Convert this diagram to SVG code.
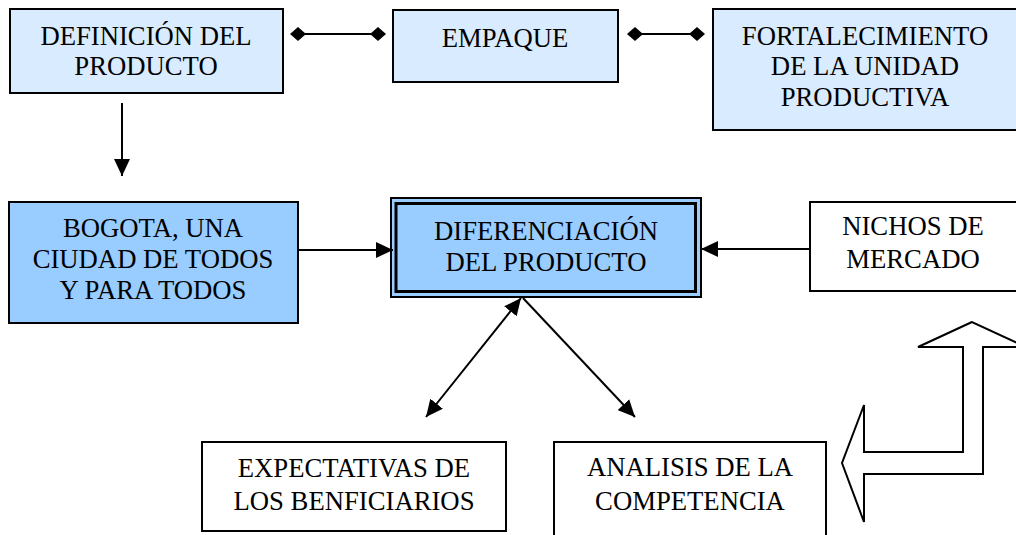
<svg xmlns="http://www.w3.org/2000/svg" width="1016" height="535" viewBox="0 0 1016 535">
<style>
.box{stroke:#000;stroke-width:2}
.lt{fill:#D9EBFF}
.md{fill:#99CCFF}
.wh{fill:#fff}
text{font-family:"Liberation Serif","Times New Roman",serif;font-size:26.7px;fill:#000;text-anchor:middle}
.ln{stroke:#000;stroke-width:2;fill:none}
.dia{fill:#000}
</style>
<defs>
<marker id="ah" markerUnits="userSpaceOnUse" viewBox="0 0 17 16" markerWidth="17" markerHeight="16" refX="17" refY="8" orient="auto-start-reverse">
<path d="M0,0 L17,8 L0,16 z" fill="#000"/>
</marker>
</defs>
<rect width="1016" height="535" fill="#fff"/>
<g id="definicion">
<rect class="box lt" x="10" y="9" width="273" height="84"/>
<text x="146" y="45">DEFINICIÓN DEL</text>
<text x="146" y="75">PRODUCTO</text>
</g>
<g id="empaque">
<rect class="box lt" x="393" y="10" width="225" height="72"/>
<text x="505" y="47">EMPAQUE</text>
</g>
<g id="fortalecimiento">
<rect class="box lt" x="713" y="9" width="310" height="121"/>
<text x="865" y="45">FORTALECIMIENTO</text>
<text x="865" y="75">DE LA UNIDAD</text>
<text x="865" y="106">PRODUCTIVA</text>
</g>
<g id="bogota">
<rect class="box md" x="9" y="202" width="289" height="121"/>
<text x="153" y="237">BOGOTA, UNA</text>
<text x="153" y="268">CIUDAD DE TODOS</text>
<text x="153" y="299">Y PARA TODOS</text>
</g>
<g id="diferenciacion">
<rect class="box md" x="391" y="198" width="310" height="99"/>
<rect x="396" y="203.5" width="299.5" height="88" fill="#99CCFF" stroke="#000" stroke-width="3"/>
<text x="546" y="240">DIFERENCIACIÓN</text>
<text x="546" y="271">DEL PRODUCTO</text>
</g>
<g id="nichos">
<rect class="box wh" x="810" y="202" width="215" height="89"/>
<text x="913" y="235">NICHOS DE</text>
<text x="913" y="268">MERCADO</text>
</g>
<g id="expectativas">
<rect class="box wh" x="202" y="442" width="304" height="89"/>
<text x="354" y="477">EXPECTATIVAS DE</text>
<text x="354" y="510">LOS BENFICIARIOS</text>
</g>
<g id="analisis">
<rect class="box wh" x="554" y="442" width="272" height="100"/>
<text x="690" y="476">ANALISIS DE LA</text>
<text x="690" y="510">COMPETENCIA</text>
</g>
<g id="bent-arrow">
<polygon points="972,322 918,347 963,347 963,452 864,452 864,405 842,463 864,522 864,474 983,474 983,347 1026,347" fill="#fff" stroke="#000" stroke-width="2"/>
</g>
<g id="connectors">
<line class="ln" x1="298" y1="34" x2="378" y2="34"/>
<polygon class="dia" points="290,34 298,27 306,34 298,41"/>
<polygon class="dia" points="370,34 378,27 386,34 378,41"/>
<line class="ln" x1="635" y1="34" x2="697" y2="34"/>
<polygon class="dia" points="627,34 635,27 643,34 635,41"/>
<polygon class="dia" points="689,34 697,27 705,34 697,41"/>
<line class="ln" x1="122" y1="103" x2="122" y2="176" marker-end="url(#ah)"/>
<line class="ln" x1="298" y1="250" x2="393" y2="250" marker-end="url(#ah)"/>
<line class="ln" x1="810" y1="249" x2="701" y2="249" marker-end="url(#ah)"/>
<line class="ln" x1="521" y1="298" x2="426" y2="417" marker-start="url(#ah)" marker-end="url(#ah)"/>
<line class="ln" x1="523" y1="298" x2="635" y2="417" marker-end="url(#ah)"/>
</g>
</svg>
